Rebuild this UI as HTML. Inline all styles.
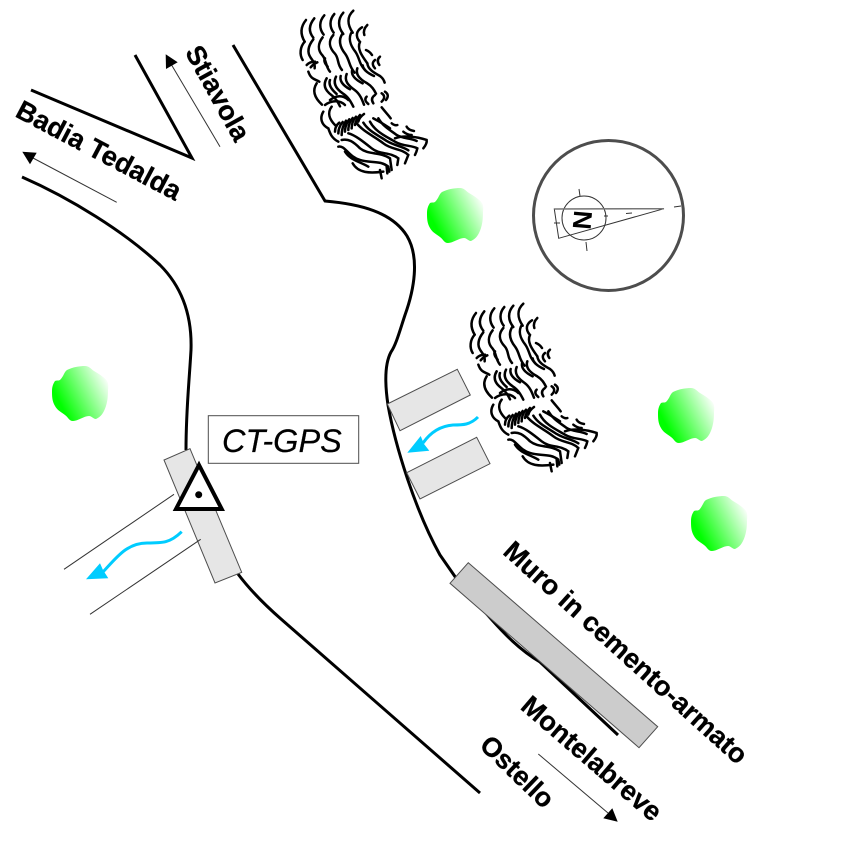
<!DOCTYPE html>
<html>
<head>
<meta charset="utf-8">
<style>
html,body{margin:0;padding:0;background:#fff}
svg{display:block}
text{font-family:"Liberation Sans",sans-serif}
.b{font-weight:bold;font-size:27.2px;fill:#000;stroke:#000;stroke-width:.3px}
</style>
</head>
<body>
<svg width="866" height="866" viewBox="0 0 866 866" xmlns="http://www.w3.org/2000/svg">
<defs>
<linearGradient id="g" x1="0.1" y1="0.7" x2="1" y2="0.25">
<stop offset="0.05" stop-color="#00ff00"/><stop offset="1" stop-color="#ffffff"/>
</linearGradient>
<path id="tree" fill="url(#g)" d="M-20 -14 C-16 -18 -16 -22 -13 -24 C-7 -27 0 -28 5 -28 C9 -28 11 -25 14 -23 C19 -20 24 -17 27 -13 C29 -10 28 -6 28 -3 C28 4 27 11 24 17 C22 21 20 23 16 25 C13 25 12 22 9 22 C4 22 -2 27 -7 27 C-11 27 -12 23 -15 21 C-19 18 -23 16 -25 12 C-28 7 -28 2 -28 -3 C-28 -7 -27 -10 -25 -13 C-23 -14 -22 -13 -20 -14 Z"/>
<g id="hatch" transform="translate(280,0) scale(0.3333)" fill="none" stroke="#000" stroke-width="7.5" stroke-linecap="round">
<path d="M78 60 c-18 22 -16 45 -4 65"/>
<path d="M103 55 c-16 20 -18 40 -3 58"/>
<path d="M133 46 c-16 18 -16 40 -2 58"/>
<path d="M163 42 c-16 18 -14 40 -2 56"/>
<path d="M190 38 c-18 20 -16 44 0 64"/>
<path d="M220 32 c-20 18 -18 42 -2 66"/>
<path d="M262 75 q-14 14 -9 30"/>
<path d="M74 125 c-14 16 -16 38 -6 55"/>
<path d="M100 118 c-14 18 -20 38 -8 55 c8 10 14 20 12 32"/>
<path d="M128 112 c-14 18 -16 38 0 55 c12 14 8 32 22 48"/>
<path d="M160 105 c-16 18 -12 38 4 55 c14 15 6 32 22 50"/>
<path d="M188 100 c-14 20 -8 42 8 62 c14 20 10 36 28 56"/>
<path d="M216 95 c-12 18 -6 40 10 60 c14 20 10 36 30 56"/>
<path d="M246 82 c-16 10 -22 26 -6 44 c-10 20 6 42 22 64"/>
<path d="M258 150 q12 5 18 15"/>
<path d="M300 170 q-12 10 -2 25"/>
<path d="M285 180 q-13 10 0 25"/>
<path d="M80 195 q10 -10 25 -10"/>
<path d="M92 202 q8 -10 20 -15"/>
<path d="M85 215 c8 24 20 22 33 30"/>
<path d="M135 175 q-6 10 8 25"/>
<path d="M110 250 c-14 22 -6 44 16 64"/>
<path d="M140 235 c-12 20 -5 36 14 50 c14 10 20 22 26 34"/>
<path d="M168 230 c-10 20 0 36 20 50 c16 10 24 24 32 40"/>
<path d="M200 222 c-8 20 4 34 24 48 c16 12 22 28 28 44"/>
<path d="M232 205 c-6 18 6 32 28 44 c16 10 22 20 28 32"/>
<path d="M262 190 c2 18 20 28 38 38 c8 6 12 12 14 20"/>
<path d="M150 240 c-6 16 6 30 20 42"/>
<path d="M182 228 c-4 16 10 30 28 40"/>
<path d="M216 212 c-2 16 12 28 32 38"/>
<path d="M248 196 c2 14 16 24 34 32"/>
<path d="M260 290 q-10 10 5 22"/>
<path d="M285 285 q-15 10 -5 25"/>
<path d="M305 280 q15 10 0 25"/>
<path d="M315 275 q15 10 3 25"/>
<path d="M150 300 c20 -15 40 -15 55 0"/>
<path d="M135 315 c20 -15 45 -15 60 0"/>
<path d="M130 335 c-12 20 -5 40 15 50 c5 15 10 30 30 40"/>
<path d="M155 320 c-15 20 -5 40 10 55"/>
<path d="M165 395 q0 -17 13 -27"/>
<path d="M175 400 q0 -18 13 -34"/>
<path d="M185 405 q0 -23 13 -43"/>
<path d="M195 395 q0 -20 13 -37"/>
<path d="M205 390 q0 -20 13 -36"/>
<path d="M215 385 q0 -20 13 -35"/>
<path d="M225 375 q3 -17 15 -30"/>
<path d="M235 365 q3 -13 17 -23"/>
<path d="M305 322 c10 13 20 23 27 33"/>
<path d="M280 355 c20 10 35 20 50 30"/>
<path d="M335 370 q10 8 17 5"/>
<path d="M380 380 q5 10 22 13"/>
<path d="M370 395 q12 10 25 10"/>
<path d="M345 415 c25 -10 65 -5 95 5 q2 10 -10 25"/>
<path d="M295 355 c15 25 35 35 55 50 c20 12 40 8 60 18"/>
<path d="M270 365 c15 30 50 45 75 60 c25 15 50 10 67 20 q-2 10 -7 20"/>
<path d="M250 368 c15 25 45 38 70 55 c25 15 45 15 65 28"/>
<path d="M230 370 c20 25 55 40 80 60 c25 20 55 15 75 35 l-10 25"/>
<path d="M205 400 c20 5 45 25 70 45 c25 20 55 10 80 30 l-3 20"/>
<path d="M185 420 c20 -5 35 5 55 25 c25 20 60 10 90 30 l5 35"/>
<path d="M175 440 c20 -5 30 30 65 40 c30 10 60 0 85 20 l3 15"/>
<path d="M195 455 c15 25 45 30 70 45"/>
<path d="M218 490 c17 30 52 30 92 25"/>
<path d="M300 510 l5 25"/>
<path d="M320 500 l2 20"/>
</g>
</defs>

<use href="#hatch"/>
<use href="#hatch" x="170" y="293"/>

<use href="#tree" x="455" y="216"/>
<use href="#tree" x="80" y="394"/>
<use href="#tree" x="686" y="416"/>
<use href="#tree" x="719" y="524"/>

<g fill="none" stroke="#000" stroke-width="3">
<path d="M22 177 C70 198 125 232 160 265 C185 290 192 320 191 350 C189 385 186 410 186 450"/>
<path d="M31 90 L192 158 L135 55"/>
<path d="M233 45 L325 201 C360 204 392 212 407 236 C420 258 414 290 405 315 C400 330 396 345 391 352 C384 365 385 385 388 405 C395 445 415 510 440 555 L456 578"/>
<path d="M485 612 C505 635 520 650 540 662 L618 735" />
<path d="M238 574 C250 590 265 605 281 619 L480 793"/>
</g>

<polygon points="468.3,562.7 657.7,726.7 639,747.7 450,583.3" fill="#cccccc" stroke="#4d4d4d" stroke-width="1"/>
<polygon points="457.3,369.3 470.3,395 400,430.7 387.3,404" fill="#e6e6e6" stroke="#4d4d4d" stroke-width="1"/>
<polygon points="476.7,437.3 490,463.7 420,499 406.7,472.7" fill="#e6e6e6" stroke="#4d4d4d" stroke-width="1"/>
<polygon points="190,448.7 241.7,572.3 215,583 164,460" fill="#e6e6e6" stroke="#4d4d4d" stroke-width="1"/>

<g stroke="#333" stroke-width="1" fill="none">
<line x1="174" y1="494.3" x2="64" y2="569.3"/>
<line x1="200.7" y1="539.3" x2="90" y2="614.3"/>
<line x1="220" y1="146.7" x2="171" y2="64"/>
<line x1="116.7" y1="202.3" x2="33" y2="158"/>
<line x1="538.3" y1="754" x2="608" y2="813"/>
</g>
<polygon points="165.7,54.3 177.7,62.3 166,69" fill="#000"/>
<polygon points="22.3,151.7 36.7,152.7 30,164.3" fill="#000"/>
<polygon points="617.7,821.7 603.3,818.3 612.3,808.3" fill="#000"/>

<polygon points="199,465 221.7,509 176,509" fill="#fff" stroke="#000" stroke-width="4"/>
<circle cx="198.7" cy="494.7" r="3.5" fill="#000"/>

<rect x="208.3" y="415.7" width="150.4" height="47.6" fill="#fff" stroke="#4d4d4d" stroke-width="1"/>
<text x="222" y="452" font-size="32.5" font-style="italic" fill="#000" stroke="#000" stroke-width=".2">CT-GPS</text>

<g fill="none" stroke="#00ccff" stroke-width="3">
<path d="M181.7 531.7 C170 543 163 543 147 543 C127 543 117 557 103 572"/>
<path d="M478 417 C470 425 463 425 453 425 C440 426 430 433 423 443"/>
</g>
<polygon points="86,579.3 108.3,578.3 103,570 100,563.3" fill="#00ccff"/>
<polygon points="407.3,452.7 429.3,450.7 424,444 420.7,436" fill="#00ccff"/>

<circle cx="608.5" cy="215.5" r="75" fill="none" stroke="#4d4d4d" stroke-width="3"/>
<circle cx="584" cy="218" r="22" fill="none" stroke="#333" stroke-width="1"/>
<polygon points="554.3,209 664,208.7 558.7,238.3" fill="none" stroke="#333" stroke-width="1"/>
<line x1="554.3" y1="209" x2="664" y2="208.7" stroke="#777" stroke-width="1.5"/>
<g stroke="#333" stroke-width="1">
<line x1="579" y1="189" x2="580" y2="196"/>
<line x1="586" y1="242" x2="587" y2="251"/>
<line x1="604" y1="216" x2="608" y2="216"/>
<line x1="554" y1="223" x2="560" y2="223"/>
<line x1="626" y1="213.5" x2="632" y2="213"/>
<line x1="674" y1="207" x2="681" y2="206"/>
</g>
<text transform="translate(582,220) rotate(-85)" x="-9.4" y="9.4" font-size="26" font-weight="bold" fill="#000">N</text>

<text class="b" transform="translate(14,116) rotate(27.8)">Badia Tedalda</text>
<text class="b" transform="translate(184.5,52) rotate(61)">Stiavola</text>
<text class="b" transform="translate(501.7,553.3) rotate(42)">Muro in cemento-armato</text>
<text class="b" transform="translate(519.3,708.3) rotate(40.7)">Montelabreve</text>
<text class="b" style="font-size:26.8px" transform="translate(478.3,746.7) rotate(44)">Ostello</text>
</svg>
</body>
</html>
